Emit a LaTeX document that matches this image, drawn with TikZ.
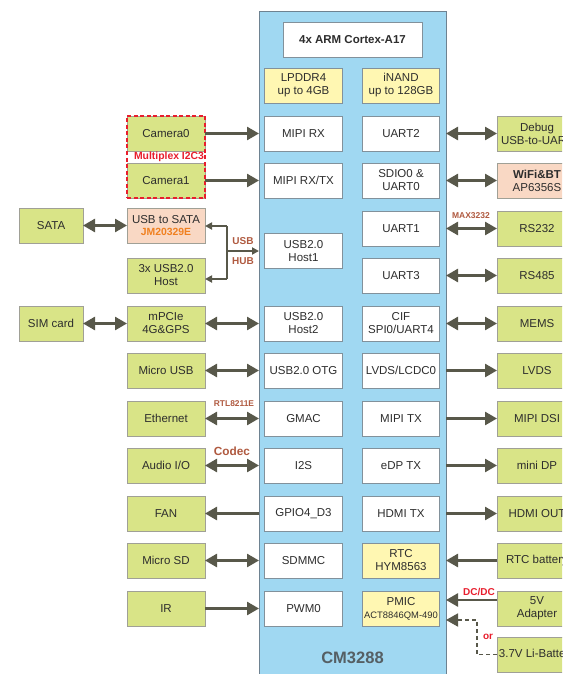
\documentclass[tikz,border=0pt]{standalone}
\usepackage{fontspec}
\setmainfont{Liberation Sans}
\usetikzlibrary{arrows.meta,fit}
\definecolor{bluec}{RGB}{160,216,242}
\definecolor{bluebd}{RGB}{110,130,145}
\definecolor{grnc}{RGB}{217,228,135}
\definecolor{grnbd}{RGB}{160,160,150}
\definecolor{yelc}{RGB}{255,247,178}
\definecolor{pchc}{RGB}{249,216,196}
\definecolor{innerbd}{RGB}{130,145,155}
\definecolor{txtc}{RGB}{45,45,45}
\definecolor{arrc}{RGB}{88,88,74}
\definecolor{brownc}{RGB}{176,90,64}
\definecolor{redc}{RGB}{232,30,45}
\definecolor{orangec}{RGB}{240,128,32}
\definecolor{cmc}{RGB}{85,95,100}
\newcommand{\mainf}{\fontsize{11.5}{13}\selectfont}
\tikzset{
  base/.style={rectangle, inner sep=1, outer sep=0, align=center, font=\mainf, text=txtc, minimum height=35, line width=0.6},
  wbox/.style={base, fill=white, draw=innerbd, minimum width=77.5},
  ybox/.style={base, fill=yelc, draw=innerbd, minimum width=77.5},
  gbox/.style={base, fill=grnc, draw=grnbd, minimum width=78},
  pbox/.style={base, fill=pchc, draw=grnbd, minimum width=78},
  arr/.style={draw=arrc, line width=2.6, -{Triangle[length=12,width=13]}},
  darr/.style={draw=arrc, line width=2.6, {Triangle[length=12,width=13]}-{Triangle[length=12,width=13]}},
  sarr/.style={draw=arrc, line width=1.8, -{Triangle[length=7,width=7]}},
  dasharr/.style={draw=arrc, line width=1.8, dash pattern=on 4 off 3, -{Triangle[length=12,width=13]}},
  lbl/.style={font=\bfseries\fontsize{#1}{#1}\selectfont, inner sep=0},
}
\begin{document}
\begin{tikzpicture}[x=1pt,y=-1pt]
\clip (0,0) rectangle (562,674);
\fill[white] (0,0) rectangle (562,674);
% main module
\node[draw=bluebd, fill=bluec, line width=1, minimum width=187, minimum height=700, anchor=north west, inner sep=0, outer sep=0] (cm) at (259,12) {};
\node[lbl=16.5, text=cmc] (cmt) at (352.5,658) {CM3288};
\node[wbox, minimum width=139, font=\bfseries\mainf] (arm) at (352.5,39.5) {4x ARM Cortex-A17};
\node[ybox] (ddr) at (303.5,85.5) {LPDDR4\\up to 4GB};
\node[ybox] (nand) at (401,85.5) {iNAND\\up to 128GB};
% inner left column
\node[wbox] (mrx) at (303.5,133.5) {MIPI RX};
\node[wbox] (mrxtx) at (303.5,180.5) {MIPI RX/TX};
\node[wbox] (host1) at (303.5,251) {USB2.0\\Host1};
\node[wbox] (host2) at (303.5,323.5) {USB2.0\\Host2};
\node[wbox] (otg) at (303.5,370.5) {USB2.0 OTG};
\node[wbox] (gmac) at (303.5,418.5) {GMAC};
\node[wbox] (i2s) at (303.5,465.5) {I2S};
\node[wbox] (gpio) at (303.5,513.5) {GPIO4\_D3};
\node[wbox] (sdmmc) at (303.5,560.5) {SDMMC};
\node[wbox] (pwm) at (303.5,608.5) {PWM0};
% inner right column
\node[wbox] (uart2) at (401,133.5) {UART2};
\node[wbox] (sdio) at (401,180.5) {SDIO0 \&\\UART0};
\node[wbox] (uart1) at (401,228.5) {UART1};
\node[wbox] (uart3) at (401,275.5) {UART3};
\node[wbox] (cif) at (401,323.5) {CIF\\SPI0/UART4};
\node[wbox] (lcdc) at (401,370.5) {LVDS/LCDC0};
\node[wbox] (mtx) at (401,418.5) {MIPI TX};
\node[wbox] (edp) at (401,465.5) {eDP TX};
\node[wbox] (hdmitx) at (401,513.5) {HDMI TX};
\node[ybox] (rtc) at (401,560.5) {RTC\\HYM8563};
\node[ybox] (pmic) at (401,608.5) {PMIC\\{\fontsize{9.4}{11}\selectfont ACT8846QM-490}};
% left peripherals
\node[gbox] (cam0) at (166,133.5) {Camera0};
\node[gbox] (cam1) at (166,180.5) {Camera1};
\node[pbox] (usbsata) at (166,225.5) {USB to SATA\\[-1pt]{\color{orangec}\bfseries\fontsize{10.4}{11}\selectfont JM20329E}};
\node[gbox] (usb3) at (166,275.5) {3x USB2.0\\Host};
\node[gbox] (mpcie) at (166,323.5) {mPCIe\\4G\&GPS};
\node[gbox] (musb) at (166,370.5) {Micro USB};
\node[gbox] (eth) at (166,418.5) {Ethernet};
\node[gbox] (audio) at (166,465.5) {Audio I/O};
\node[gbox] (fan) at (166,513.5) {FAN};
\node[gbox] (msd) at (166,560.5) {Micro SD};
\node[gbox] (ir) at (166,608.5) {IR};
\node[gbox, minimum width=64] (sata) at (51,225.5) {SATA};
\node[gbox, minimum width=64] (sim) at (51,323.5) {SIM card};
% right peripherals
\node[gbox, minimum width=80] (debug) at (537,133.5) {Debug\\USB-to-UART};
\node[pbox, minimum width=80] (wifi) at (537,180.5) {{\bfseries WiFi\&BT}\\AP6356S};
\node[gbox, minimum width=80] (rs232) at (537,228.5) {RS232};
\node[gbox, minimum width=80] (rs485) at (537,275.5) {RS485};
\node[gbox, minimum width=80] (mems) at (537,323.5) {MEMS};
\node[gbox, minimum width=80] (lvds) at (537,370.5) {LVDS};
\node[gbox, minimum width=80] (dsi) at (537,418.5) {MIPI DSI};
\node[gbox, minimum width=80] (mdp) at (537,465.5) {mini DP};
\node[gbox, minimum width=80] (hdmi) at (537,513.5) {HDMI OUT};
\node[gbox, minimum width=80] (rtcb) at (537,560.5) {RTC battery};
\node[gbox, minimum width=80] (adapt) at (537,608.5) {5V\\Adapter};
\node[gbox, minimum width=80] (libat) at (537,654.5) {3.7V Li-Battery};
% camera group
\node[draw=redc, line width=1.8, dash pattern=on 4 off 2.5, fit=(cam0)(cam1), inner xsep=5.5, inner ysep=4, inner sep=0] (camgrp) {};
\node[lbl=10.4, text=redc] (mux) at (169,157) {Multiplex I2C3};
% left connectors
\draw[arr] (cam0.east) -- (cam0.east -| cm.west);
\draw[arr] (cam1.east) -- (cam1.east -| cm.west);
\draw[darr] (sata.east) -- (usbsata.west);
\coordinate (hub) at (227,251);
\coordinate (hubT) at (227,226);
\coordinate (hubB) at (227,279);
\draw[draw=arrc, line width=1.8] (hubT) -- (hubB);
\draw[sarr] (hub) -- (hub -| cm.west);
\draw[sarr] (hubT) -- (hubT -| usbsata.east);
\draw[sarr] (hubB) -- (hubB -| usb3.east);
\node[lbl=10, text=brownc] (usbl) at (243,241) {USB};
\node[lbl=10, text=brownc] (hubl) at (243,261) {HUB};
\draw[darr] (sim.east) -- (mpcie.west);
\draw[darr] (mpcie.east) -- (mpcie.east -| cm.west);
\draw[darr] (musb.east) -- (musb.east -| cm.west);
\draw[darr] (eth.east) -- (eth.east -| cm.west);
\node[lbl=8.4, text=brownc] (rtl) at (234,404) {RTL8211E};
\draw[darr] (audio.east) -- (audio.east -| cm.west);
\node[lbl=11.8, text=brownc] (codec) at (232,451) {Codec};
\draw[arr] (fan.east -| cm.west) -- (fan.east);
\draw[darr] (msd.east) -- (msd.east -| cm.west);
\draw[arr] (ir.east) -- (ir.east -| cm.west);
% right connectors
\draw[darr] (debug.west -| cm.east) -- (debug.west);
\draw[darr] (wifi.west -| cm.east) -- (wifi.west);
\draw[darr] (rs232.west -| cm.east) -- (rs232.west);
\node[lbl=8.5, text=brownc] (max) at (471,215.5) {MAX3232};
\draw[darr] (rs485.west -| cm.east) -- (rs485.west);
\draw[darr] (mems.west -| cm.east) -- (mems.west);
\draw[arr] (lvds.west -| cm.east) -- (lvds.west);
\draw[arr] (dsi.west -| cm.east) -- (dsi.west);
\draw[arr] (mdp.west -| cm.east) -- (mdp.west);
\draw[arr] (hdmi.west -| cm.east) -- (hdmi.west);
\draw[arr] (rtcb.west) -- (rtcb.west -| cm.east);
\coordinate (adw) at ([yshift=8.5]adapt.west);
\draw[arr] (adw) -- (adw -| cm.east);
\node[lbl=10, text=redc] (dcdc) at (479,592) {DC/DC};
\coordinate (bd1) at (477,654.5);
\coordinate (bd2) at (477,620);
\draw[dasharr] (libat.west) -- (bd1) -- (bd2) -- (bd2 -| cm.east);
\node[lbl=10, text=redc] (orl) at (488,637) {or};
\end{tikzpicture}
\end{document}
